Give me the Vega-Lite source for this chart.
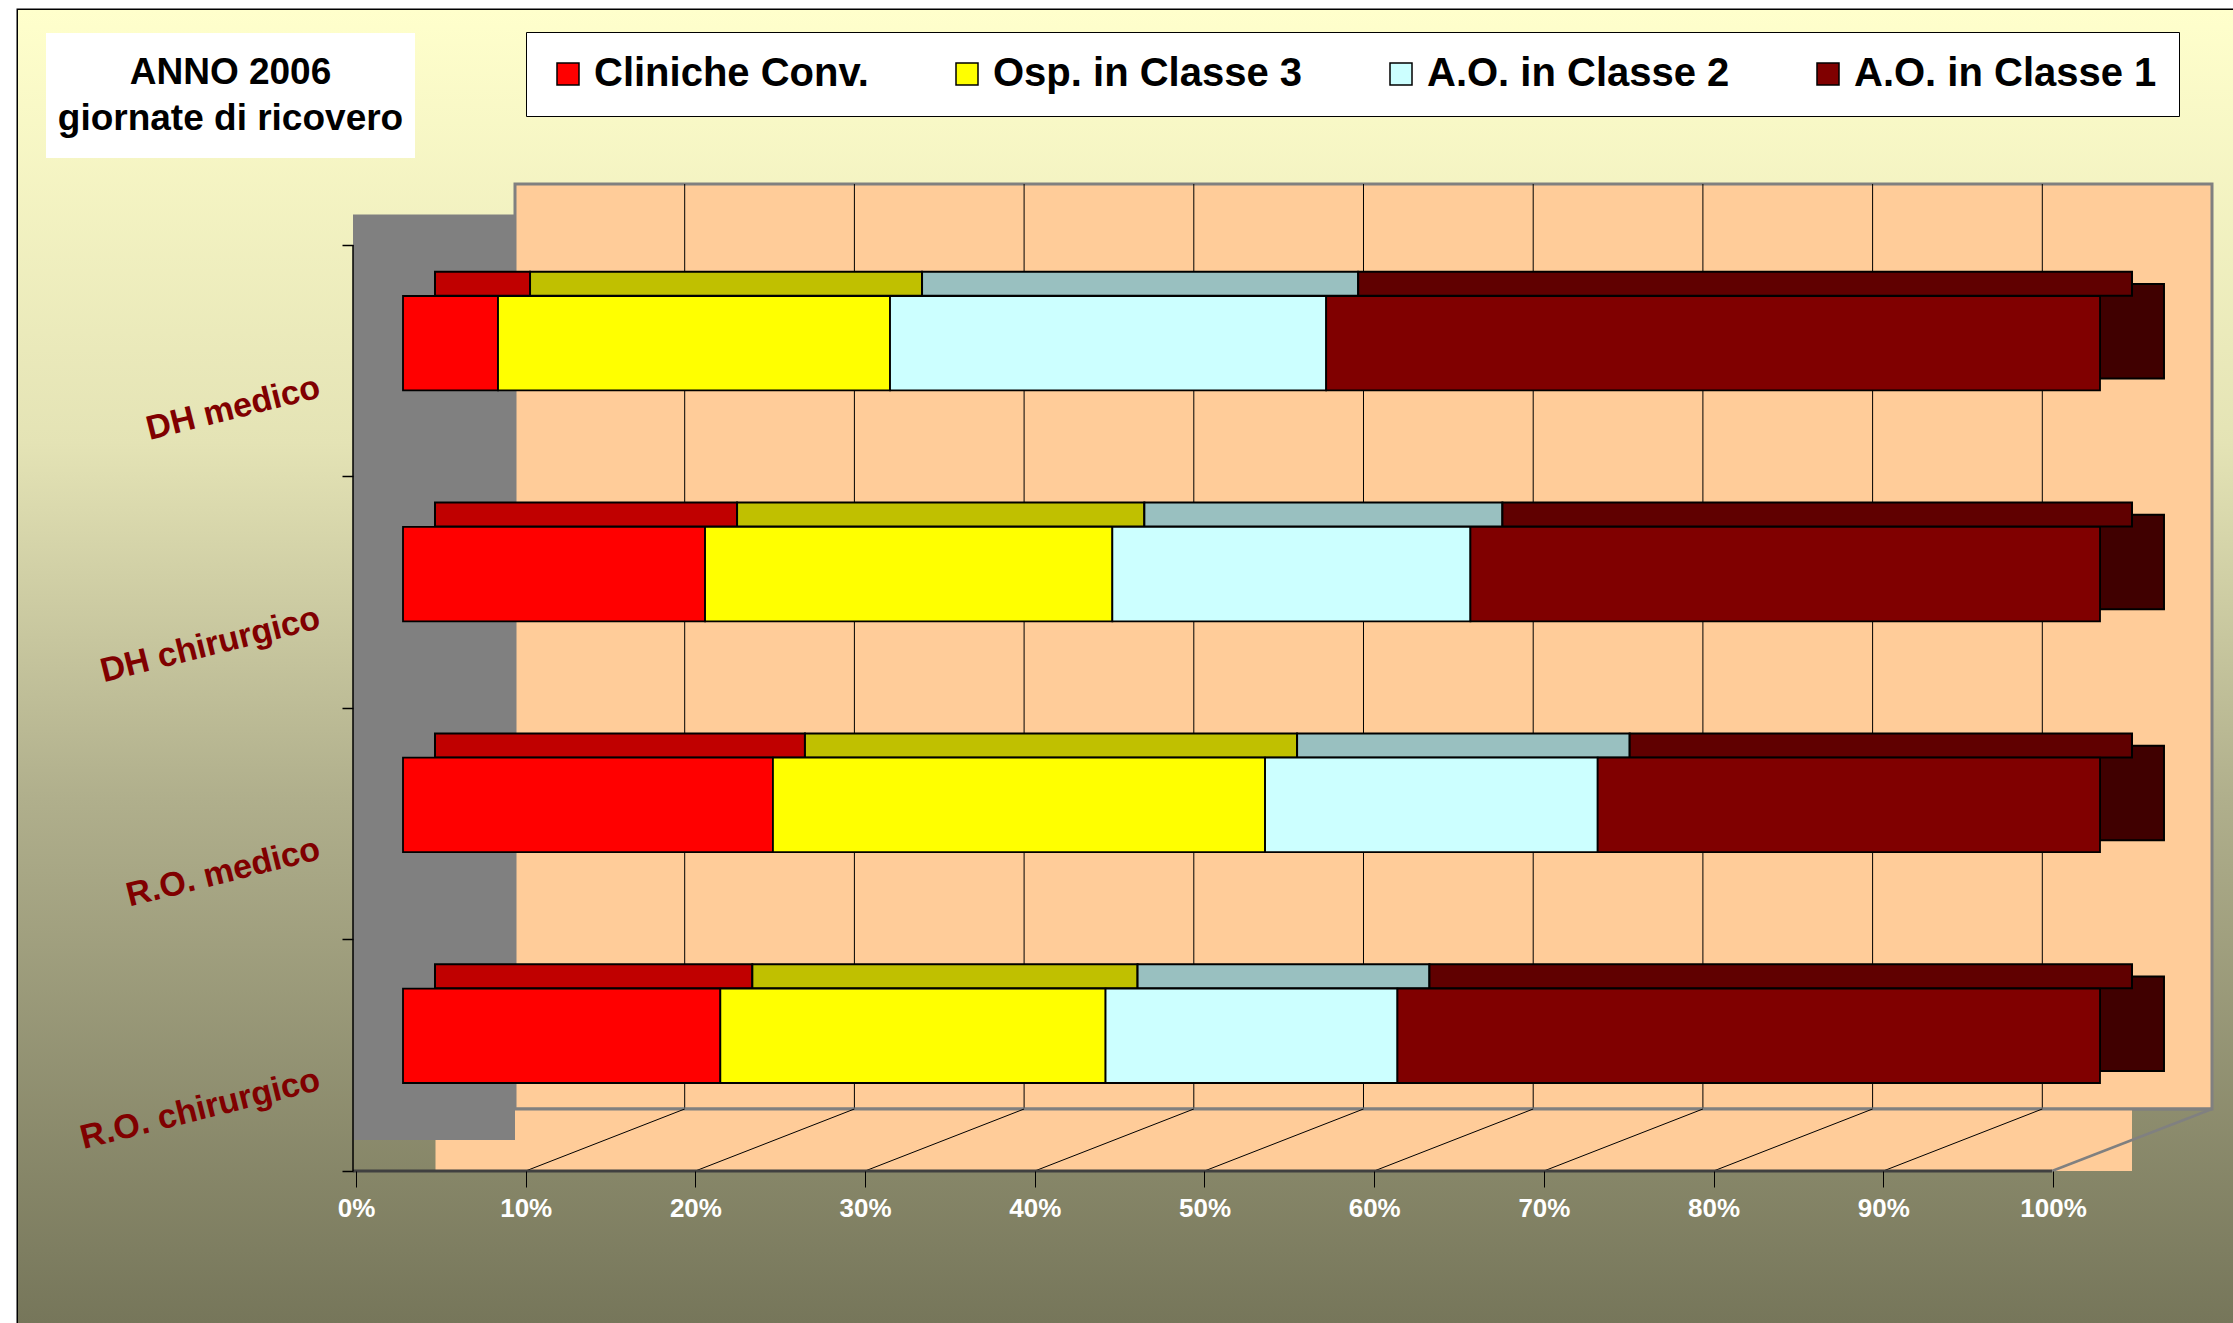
{
  "$schema": "https://vega.github.io/schema/vega-lite/v6.json",
  "width": 2215,
  "height": 1313,
  "autosize": {"type": "none"},
  "padding": {"left": 18, "top": 10, "right": 0, "bottom": 0},
  "background": "white",
  "config": {"view": {"stroke": "black", "strokeWidth": 3}, "font": "Liberation Sans"},
  "datasets": {
    "bars": [
      {"cat": "DH medico", "serie": "Cliniche Conv.", "value": 5.6, "ord": 1},
      {"cat": "DH medico", "serie": "Osp. in Classe 3", "value": 23.1, "ord": 2},
      {"cat": "DH medico", "serie": "A.O. in Classe 2", "value": 25.7, "ord": 3},
      {"cat": "DH medico", "serie": "A.O. in Classe 1", "value": 45.6, "ord": 4},
      {"cat": "DH chirurgico", "serie": "Cliniche Conv.", "value": 17.8, "ord": 1},
      {"cat": "DH chirurgico", "serie": "Osp. in Classe 3", "value": 24.0, "ord": 2},
      {"cat": "DH chirurgico", "serie": "A.O. in Classe 2", "value": 21.1, "ord": 3},
      {"cat": "DH chirurgico", "serie": "A.O. in Classe 1", "value": 37.1, "ord": 4},
      {"cat": "R.O. medico", "serie": "Cliniche Conv.", "value": 21.8, "ord": 1},
      {"cat": "R.O. medico", "serie": "Osp. in Classe 3", "value": 29.0, "ord": 2},
      {"cat": "R.O. medico", "serie": "A.O. in Classe 2", "value": 19.6, "ord": 3},
      {"cat": "R.O. medico", "serie": "A.O. in Classe 1", "value": 29.6, "ord": 4},
      {"cat": "R.O. chirurgico", "serie": "Cliniche Conv.", "value": 18.7, "ord": 1},
      {"cat": "R.O. chirurgico", "serie": "Osp. in Classe 3", "value": 22.7, "ord": 2},
      {"cat": "R.O. chirurgico", "serie": "A.O. in Classe 2", "value": 17.2, "ord": 3},
      {"cat": "R.O. chirurgico", "serie": "A.O. in Classe 1", "value": 41.4, "ord": 4}
    ],
    "ticks": [
      {"t": 0.1}, {"t": 0.2}, {"t": 0.3}, {"t": 0.4}, {"t": 0.5},
      {"t": 0.6}, {"t": 0.7}, {"t": 0.8}, {"t": 0.9}
    ]
  },
  "layer": [
    {
      "data": {"values": [{}]},
      "layer": [
        {
          "mark": {
            "type": "rect",
            "fill": {
              "gradient": "linear", "x1": 0, "y1": 0, "x2": 0, "y2": 1,
              "stops": [
                {"offset": 0, "color": "#FFFFCC"},
                {"offset": 0.33, "color": "#E4E3B5"},
                {"offset": 0.6, "color": "#B0AF8C"},
                {"offset": 1, "color": "#76765A"}
              ]
            }
          },
          "encoding": {}
        },
        {
          "mark": {"type": "rect", "fill": "white"},
          "encoding": {
            "x": {"datum": -0.21037, "scale": {"domain": [-0.226871, 1.078374], "nice": false, "zero": false}},
            "x2": {"datum": 0.00707},
            "y": {
              "datum": -0.91577,
              "scale": {"domain": [-1.01512, 4.65659], "reverse": true, "nice": false, "zero": false},
              "axis": {"orient": "left", "offset": -335, "values": [0, 1, 2, 3, 4], "labels": false, "domain": false, "grid": false, "ticks": true, "tickSize": 11, "tickColor": "black", "tickWidth": 1.5, "title": null, "zindex": 1}
            },
            "y2": {"datum": -0.37581}
          }
        },
        {
          "mark": {"type": "text", "text": ["ANNO 2006", "giornate di ricovero"], "font": "Liberation Sans", "fontWeight": 700, "fontStyle": "normal", "fontSize": 37, "lineHeight": 46, "align": "center", "baseline": "middle", "color": "black"},
          "encoding": {"x": {"datum": -0.10165}, "y": {"datum": -0.745}}
        },
        {
          "mark": {"type": "rect", "fill": "#FFCC99", "stroke": "#808080", "strokeWidth": 3},
          "encoding": {"x": {"datum": 0.066}, "x2": {"datum": 1.066}, "y": {"datum": -0.2635}, "y2": {"datum": 3.73218}}
        },
        {
          "data": {"name": "ticks"},
          "mark": {"type": "rule", "color": "black", "strokeWidth": 1, "xOffset": 112},
          "encoding": {"x": {"field": "t", "type": "quantitative"}, "y": {"datum": -0.2635}, "y2": {"datum": 3.73218}}
        },
        {
          "mark": {"type": "rect", "fill": "#FFCC99"},
          "encoding": {"x": {"datum": 0.01915}, "x2": {"datum": 1.01886}, "y": {"datum": 3.73218}, "y2": {"datum": 4}}
        },
        {
          "mark": {"type": "rule", "color": "#808080", "strokeWidth": 3},
          "encoding": {"x": {"datum": 0.066}, "x2": {"datum": 1.066}, "y": {"datum": 3.73218}}
        },
        {
          "mark": {"type": "rect", "fill": "#808080"},
          "encoding": {"x": {"datum": -0.02946}, "x2": {"datum": 0.066}, "y": {"datum": -0.13175}, "y2": {"datum": 3.86609}}
        },
        {
          "data": {"name": "ticks"},
          "mark": {"type": "rule", "color": "black", "strokeWidth": 1, "xOffset": -47, "x2Offset": 112},
          "encoding": {"x": {"field": "t", "type": "quantitative"}, "x2": {"field": "t"}, "y": {"datum": 4}, "y2": {"datum": 3.73218}}
        },
        {
          "mark": {"type": "rule", "color": "#808080", "strokeWidth": 2.5},
          "encoding": {"x": {"datum": 0.97172}, "x2": {"datum": 1.066}, "y": {"datum": 4}, "y2": {"datum": 3.73218}}
        },
        {
          "mark": {"type": "rule", "color": "#404040", "strokeWidth": 3},
          "encoding": {"x": {"datum": -0.02946}, "x2": {"datum": 0.97172}, "y": {"datum": 4}}
        },
        {
          "mark": {"type": "rule", "color": "black", "strokeWidth": 1.5},
          "encoding": {"x": {"datum": -0.02946}, "y": {"datum": 0}, "y2": {"datum": 4}}
        }
      ]
    },
    {
      "data": {"name": "bars"},
      "layer": [
        {
          "transform": [{"filter": "datum.ord == 4"}],
          "mark": {"type": "bar", "color": "#400000", "stroke": "black", "strokeWidth": 2, "yOffset": -12},
          "encoding": {
            "x": {"datum": 1, "scale": {"domain": [-0.226871, 1.078374], "nice": false, "zero": false}},
            "x2": {"datum": 1.0377},
            "y": {
              "field": "cat", "type": "nominal",
              "sort": ["DH medico", "DH chirurgico", "R.O. medico", "R.O. chirurgico"],
              "scale": {"type": "band", "range": [286, 1073], "paddingInner": 0.591, "paddingOuter": 0}
            }
          }
        },
        {
          "mark": {"type": "bar", "height": 24, "yOffset": -59.5, "xOffset": 32, "x2Offset": 32, "stroke": "black", "strokeWidth": 2},
          "encoding": {
            "x": {"field": "value", "type": "quantitative", "stack": "normalize"},
            "y": {"field": "cat", "type": "nominal", "sort": ["DH medico", "DH chirurgico", "R.O. medico", "R.O. chirurgico"]},
            "color": {
              "field": "serie", "type": "nominal",
              "scale": {"domain": ["Cliniche Conv.", "Osp. in Classe 3", "A.O. in Classe 2", "A.O. in Classe 1"], "range": ["#C00000", "#C0C000", "#99C0C0", "#600000"]},
              "legend": null
            },
            "order": {"field": "ord", "type": "quantitative"}
          }
        },
        {
          "mark": {"type": "bar", "stroke": "black", "strokeWidth": 1.8},
          "encoding": {
            "x": {
              "field": "value", "type": "quantitative", "stack": "normalize",
              "axis": {
                "orient": "bottom", "offset": -152, "values": [0, 0.1, 0.2, 0.3, 0.4, 0.5, 0.6, 0.7, 0.8, 0.9, 1],
                "format": ".0%", "tickOffset": -47, "tickSize": 16, "tickColor": "black", "tickWidth": 1,
                "domain": false, "grid": false, "title": null, "zindex": 1,
                "labelColor": "white", "labelFont": "Liberation Sans", "labelFontWeight": "bold", "labelFontSize": 26,
                "labelPadding": 8, "labelOverlap": false, "labelFlush": false
              }
            },
            "y": {
              "field": "cat", "type": "nominal",
              "sort": ["DH medico", "DH chirurgico", "R.O. medico", "R.O. chirurgico"],
              "axis": {
                "orient": "left", "offset": -335, "ticks": false, "tickSize": 0, "domain": false, "grid": false, "title": null, "zindex": 1,
                "labelAngle": -14, "labelAlign": "right", "labelBaseline": "middle", "labelPadding": 34, "labelOffset": 44,
                "labelColor": "#800000", "labelFont": "Liberation Sans", "labelFontWeight": "bold", "labelFontSize": 34, "labelLimit": 0
              }
            },
            "color": {
              "field": "serie", "type": "nominal",
              "scale": {"domain": ["Cliniche Conv.", "Osp. in Classe 3", "A.O. in Classe 2", "A.O. in Classe 1"], "range": ["#FF0000", "#FFFF00", "#CCFFFF", "#800000"]},
              "legend": {
                "orient": "none", "legendX": 508, "legendY": 22, "direction": "horizontal", "title": null,
                "symbolType": "square", "symbolSize": 484, "symbolStrokeColor": "black", "symbolStrokeWidth": 1.5, "symbolOpacity": 1,
                "labelFont": "Liberation Sans", "labelFontWeight": "bold", "labelFontSize": 40, "labelColor": "black", "labelOffset": 6, "labelLimit": 0,
                "columnPadding": 78, "padding": 22, "fillColor": "white", "strokeColor": "black"
              }
            },
            "order": {"field": "ord", "type": "quantitative"}
          }
        }
      ],
      "resolve": {"scale": {"color": "independent"}}
    }
  ],
  "resolve": {"scale": {"y": "independent"}, "axis": {"y": "independent"}}
}
